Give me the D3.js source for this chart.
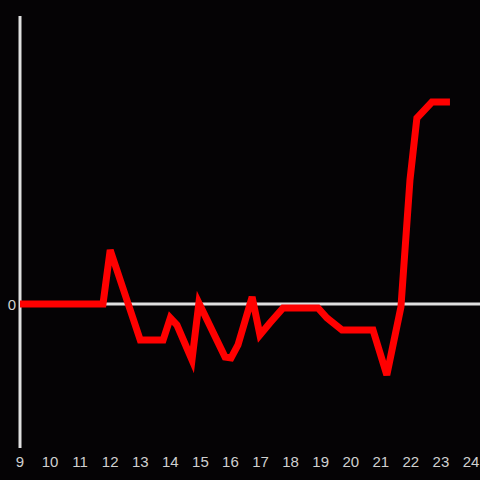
<!DOCTYPE html>
<html>
<head>
<meta charset="utf-8">
<script src="https://cdn.jsdelivr.net/npm/d3@7"></script>
<style>
  html, body { margin: 0; padding: 0; background: #050305; }
  svg { display: block; }
</style>
</head>
<body>
<div id="chart"></div>
<script>
const xValues = [9, 11.76, 12, 13, 13.76, 14, 14.22, 14.72, 14.95, 15.82, 16.02, 16.25, 16.72, 16.98, 17.31, 17.75, 18.91, 19.21, 19.71, 20.74, 21.2, 21.67, 21.97, 22.2, 22.7, 23.3];
const yValues = [0, 0, 5.4, -3.6, -3.6, -1.4, -2.1, -5.6, 0.1, -5.3, -5.4, -4.1, 0.7, -3.1, -1.9, -0.4, -0.4, -1.4, -2.6, -2.6, -7.1, -0.3, 12.4, 18.6, 20.2, 20.2];
const xTicks = [9, 10, 11, 12, 13, 14, 15, 16, 17, 18, 19, 20, 21, 22, 23, 24];
const yTicks = [0];

const width = 480, height = 480;
const data = xValues.map((x, i) => ({ x: x, y: yValues[i] }));

const svg = d3.select("#chart")
    .append("svg")
    .attr("width", width)
    .attr("height", height);

const x = d3.scaleLinear().domain([9, 24]).range([20, 471]);
const y = d3.scaleLinear().domain([-14.4, 28.8]).range([448, 16]);

// y axis line
svg.append("line")
    .attr("x1", x(9)).attr("x2", x(9))
    .attr("y1", y(28.8)).attr("y2", y(-14.4))
    .attr("stroke", "#e0e0e0")
    .attr("stroke-width", 3);

// zero line
svg.append("line")
    .attr("x1", x(9)).attr("x2", width)
    .attr("y1", y(0)).attr("y2", y(0))
    .attr("stroke", "#e0e0e0")
    .attr("stroke-width", 3);

// x tick labels
svg.append("g")
    .selectAll("text")
    .data(xTicks)
    .enter()
    .append("text")
    .attr("x", d => x(d))
    .attr("y", 467)
    .attr("text-anchor", "middle")
    .attr("fill", "#d0d0d0")
    .attr("font-family", "Liberation Sans, Arial, sans-serif")
    .attr("font-size", 15)
    .text(d => d);

// y tick labels
svg.append("g")
    .selectAll("text")
    .data(yTicks)
    .enter()
    .append("text")
    .attr("x", 16)
    .attr("y", d => y(d) + 6)
    .attr("text-anchor", "end")
    .attr("fill", "#d0d0d0")
    .attr("font-family", "Liberation Sans, Arial, sans-serif")
    .attr("font-size", 15)
    .text(d => d);

const line = d3.line()
    .x(d => x(d.x))
    .y(d => y(d.y));

svg.append("path")
    .datum(data)
    .attr("d", line)
    .attr("fill", "none")
    .attr("stroke", "#ff0000")
    .attr("stroke-width", 7)
    .attr("stroke-linejoin", "miter")
    .attr("stroke-linecap", "butt");
</script>
</body>
</html>
